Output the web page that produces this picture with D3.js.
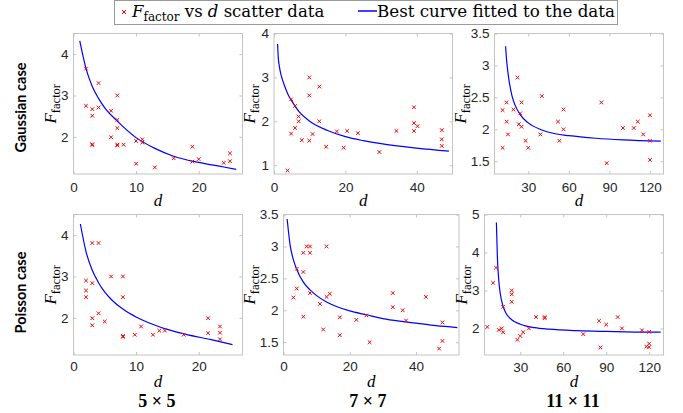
<!DOCTYPE html>
<html>
<head>
<meta charset="utf-8">
<script src="https://cdn.jsdelivr.net/npm/d3@7"></script>
<style>
  body { margin: 0; background: #fff; }
  svg { display: block; }
</style>
</head>
<body>
<svg width="683" height="413"></svg>
<script>
const rowLabels = ['Gaussian case', 'Poisson case']
const colLabels = ['5 × 5', '7 × 7', '11 × 11']

// scatter data (d, F_factor)
const gauss5D = [2, 4, 2, 3, 3, 4, 7, 6, 7, 7, 6, 3, 3, 7, 7, 8, 10, 11, 11, 10, 13, 16, 19, 19, 20, 24, 25, 25]
const gauss5F = [3.65, 3.3, 2.75, 2.67, 2.51, 2.71, 3.0, 2.63, 2.41, 2.21, 1.99, 1.82, 1.80, 1.81, 1.79, 1.81, 1.90, 1.94, 1.86, 1.35, 1.26, 1.48, 1.76, 1.40, 1.46, 1.37, 1.60, 1.41]
const gauss7D = [3.8, 4.8, 5.9, 6.9, 6.9, 5.9, 4.8, 7.8, 9.9, 9.9, 9.9, 10.8, 12.7, 12.7, 14.6, 17.6, 20.5, 19.5, 23.5, 29.5, 34.3, 39.2, 39.2, 39.2, 40.2, 47, 47, 47]
const gauss7F = [0.88, 2.5, 2.35, 2.11, 2.0, 1.85, 1.72, 1.57, 3.0, 2.59, 1.56, 1.71, 2.79, 2.0, 1.42, 1.77, 1.78, 1.40, 1.73, 1.30, 1.78, 2.32, 1.96, 1.78, 1.89, 1.8, 1.59, 1.44]
const gauss11D = [11, 11, 14, 14, 15, 19, 22, 23, 24, 25, 25, 28, 30, 40, 39, 52, 53, 56, 56, 84, 88, 100, 108, 111, 115, 120, 120, 120]
const gauss11F = [2.3, 1.71, 2.42, 2.12, 1.92, 2.31, 2.81, 2.08, 2.25, 2.42, 2.04, 1.82, 1.71, 2.52, 1.92, 2.12, 1.82, 2.0, 2.31, 2.42, 1.47, 2.02, 2.02, 2.12, 1.92, 2.22, 1.82, 1.52]
const poiss5D = [3, 4, 2, 2, 2, 3, 3, 3, 4, 5, 6, 7.9, 7.9, 7.9, 7.9, 9.8, 10.8, 12.7, 13.7, 14.6, 17.6, 21.5, 21.5, 23.4, 23.4, 23.4]
const poiss5F = [3.81, 3.81, 2.9, 2.66, 2.5, 2.84, 1.99, 1.82, 2.11, 1.91, 3.0, 3.0, 2.5, 1.54, 1.56, 1.59, 1.79, 1.59, 1.69, 1.69, 1.59, 1.99, 1.63, 1.79, 1.64, 1.48]
const poiss7D = [3, 4, 4, 6, 6, 6, 7, 8, 8, 8, 11, 12, 13, 13, 14, 17, 17, 22, 25, 26, 33, 33, 36, 37, 43, 47, 48, 48]
const poiss7F = [2.2, 2.34, 2.65, 2.9, 2.6, 1.9, 3.0, 3.0, 2.9, 2.27, 2.1, 1.7, 3.0, 2.21, 2.26, 1.89, 1.61, 1.85, 1.92, 1.5, 2.27, 2.05, 2.0, 1.84, 2.21, 1.40, 1.81, 1.52]
const poiss11D = [7, 11, 13, 15, 17, 18, 18, 24, 24, 24, 28, 30, 32, 36, 41, 47, 47, 74, 85, 86, 90, 98, 101, 115, 118, 120, 120, 120]
const poiss11F = [2.04, 3.2, 3.6, 1.96, 2.0, 1.9, 2.57, 3.0, 2.9, 2.7, 1.7, 1.8, 1.9, 2.0, 2.3, 2.3, 2.27, 1.85, 2.2, 1.5, 2.1, 2.3, 2.0, 1.95, 1.52, 1.91, 1.6, 1.51]

// fitted curves, read at sample points
const gauss5CurveD = [1, 2, 3, 4, 5, 7, 10, 13, 16, 20, 24, 26]
const gauss5CurveF = [4.32, 3.65, 3.22, 2.93, 2.7, 2.38, 1.98, 1.72, 1.53, 1.38, 1.27, 1.21]
const gauss7CurveD = [1, 1.2, 1.5, 2, 3, 4, 5, 7, 10, 15, 20, 25, 30, 40, 49]
const gauss7CurveF = [3.76, 3.45, 3.25, 3.05, 2.8, 2.6, 2.46, 2.22, 2.0, 1.79, 1.65, 1.56, 1.49, 1.39, 1.32]
const gauss11CurveD = [13.2, 14, 15, 16, 18, 20, 24, 30, 40, 50, 60, 80, 100, 128]
const gauss11CurveF = [3.3, 3.07, 2.88, 2.73, 2.52, 2.39, 2.23, 2.1, 1.99, 1.93, 1.9, 1.86, 1.835, 1.815]
const poiss5CurveD = [1.1, 2, 3, 4, 5, 6, 8, 10, 12, 15, 18, 22, 25.4]
const poiss5CurveF = [4.27, 3.6, 3.15, 2.85, 2.62, 2.45, 2.2, 2.02, 1.88, 1.72, 1.6, 1.47, 1.35]
const poiss7CurveD = [1.1, 2, 3, 4, 6, 8, 10, 13, 16, 20, 25, 30, 35, 40, 46, 52.5]
const poiss7CurveF = [3.43, 3.02, 2.79, 2.64, 2.44, 2.32, 2.23, 2.13, 2.06, 1.99, 1.93, 1.87, 1.83, 1.80, 1.76, 1.73]
const poiss11CurveD = [13.3, 14, 15, 16, 18, 20, 24, 30, 40, 50, 70, 90, 110, 128]
const poiss11CurveF = [4.79, 3.87, 3.25, 2.92, 2.58, 2.40, 2.23, 2.11, 2.02, 1.98, 1.94, 1.92, 1.905, 1.9]

// tick values
const xTicks5 = [0, 10, 20]
const xTicks7 = [0, 20, 40]
const xTicks11 = [30, 60, 90, 120]
const yTicksG5 = [2, 3, 4]
const yTicksG7 = [1, 2, 3, 4]
const yTicksG11 = [1.5, 2, 2.5, 3, 3.5]
const yTicksP5 = [2, 3, 4]
const yTicksP7 = [1.5, 2, 2.5, 3, 3.5]
const yTicksP11 = [2, 3, 4, 5]

const panels = [
  { box: [73.5, 33.5, 242.5, 174], xDom: [0, 27], yDom: [1.1, 4.5], xT: xTicks5, yT: yTicksG5, d: gauss5D, f: gauss5F, cd: gauss5CurveD, cf: gauss5CurveF, labX: 56, pad: 8 },
  { box: [274, 33.5, 452.5, 174], xDom: [0, 50], yDom: [0.8, 4], xT: xTicks7, yT: yTicksG7, d: gauss7D, f: gauss7F, cd: gauss7CurveD, cf: gauss7CurveF, labX: 255, pad: 8 },
  { box: [494.5, 33.5, 663.5, 174], xDom: [5, 130], yDom: [1.3, 3.5], xT: xTicks11, yT: yTicksG11, d: gauss11D, f: gauss11F, cd: gauss11CurveD, cf: gauss11CurveF, labX: 466, pad: 8 },
  { box: [73.5, 214.5, 242.5, 355], xDom: [0, 27], yDom: [1.1, 4.5], xT: xTicks5, yT: yTicksP5, d: poiss5D, f: poiss5F, cd: poiss5CurveD, cf: poiss5CurveF, labX: 56, pad: 6 },
  { box: [283.5, 214.5, 459, 355], xDom: [0, 53], yDom: [1.3, 3.5], xT: xTicks7, yT: yTicksP7, d: poiss7D, f: poiss7F, cd: poiss7CurveD, cf: poiss7CurveF, labX: 255, pad: 6 },
  { box: [484.5, 214.5, 663.5, 355], xDom: [5, 130], yDom: [1.3, 5], xT: xTicks11, yT: yTicksP11, d: poiss11D, f: poiss11F, cd: poiss11CurveD, cf: poiss11CurveF, labX: 467, pad: 7 }
]

const svg = d3.select('svg')
const serif = '"Liberation Serif", "Times New Roman", serif'
const legendSerif = '"DejaVu Serif", serif'
const sans = '"Liberation Sans", Arial, sans-serif'
const boxColor = '#c4c4c4'
const tickColor = '#262626'

panels.forEach((p, i) => {
  let [x0, y0, x1, y1] = p.box
  let x = d3.scaleLinear().domain(p.xDom).range([x0, x1])
  let y = d3.scaleLinear().domain(p.yDom).range([y1, y0])
  let g = svg.append('g')

  // tick labels + inner tick marks on all four sides
  g.append('g').attr('transform', `translate(0,${y1})`)
    .call(d3.axisBottom(x).tickValues(p.xT).tickSizeInner(-3).tickSizeOuter(0).tickPadding(p.pad))
  g.append('g').attr('transform', `translate(0,${y0})`)
    .call(d3.axisTop(x).tickValues(p.xT).tickSizeInner(-3).tickSizeOuter(0).tickFormat(''))
  g.append('g').attr('transform', `translate(${x0},0)`)
    .call(d3.axisLeft(y).tickValues(p.yT).tickSizeInner(-3).tickSizeOuter(0).tickPadding(5).tickFormat(d3.format('')))
  g.append('g').attr('transform', `translate(${x1},0)`)
    .call(d3.axisRight(y).tickValues(p.yT).tickSizeInner(-3).tickSizeOuter(0).tickFormat(''))
  g.selectAll('.domain').remove()
  g.selectAll('.tick line').attr('stroke', boxColor)
  g.selectAll('.tick text').attr('fill', tickColor).attr('font-family', sans).attr('font-size', 13.5)

  g.append('rect')
    .attr('x', x0).attr('y', y0)
    .attr('width', x1 - x0).attr('height', y1 - y0)
    .attr('fill', 'none').attr('stroke', boxColor)

  let clipId = 'clip' + i
  g.append('clipPath').attr('id', clipId).append('rect')
    .attr('x', x0).attr('y', y0).attr('width', x1 - x0).attr('height', y1 - y0)

  // fitted curve
  let curvePts = p.cd.map((v, k) => [v, p.cf[k]])
  let line = d3.line()
    .x((d) => x(d[0]))
    .y((d) => y(d[1]))
    .curve(d3.curveMonotoneX)
  g.append('path')
    .attr('clip-path', `url(#${clipId})`)
    .attr('d', line(curvePts))
    .attr('fill', 'none')
    .attr('stroke', '#0000ff')
    .attr('stroke-width', 1.2)

  // scatter markers
  let pts = p.d.map((v, k) => [v, p.f[k]])
  g.append('g').selectAll('path')
    .data(pts)
    .join('path')
    .attr('d', (d) => {
      let cx = x(d[0]), cy = y(d[1]), r = 1.8
      return `M${cx - r},${cy - r}L${cx + r},${cy + r}M${cx - r},${cy + r}L${cx + r},${cy - r}`
    })
    .attr('stroke', '#ff0000')
    .attr('stroke-width', 1)
    .attr('fill', 'none')

  // x label
  g.append('text')
    .attr('x', (x0 + x1) / 2)
    .attr('y', y1 + 32)
    .attr('text-anchor', 'middle')
    .attr('font-family', serif)
    .attr('font-style', 'italic')
    .attr('font-size', 17)
    .text('d')

  // y label F_factor
  let yl = g.append('text')
    .attr('transform', `translate(${p.labX},${(y0 + y1) / 2}) rotate(-90)`)
    .attr('text-anchor', 'middle')
    .attr('font-family', serif)
  yl.append('tspan').attr('font-style', 'italic').attr('font-size', 17).text('F')
  yl.append('tspan').attr('font-size', 12.5).attr('dy', 4).text('factor')
})

// row labels
let rowCenters = [107.5, 292.5]
rowLabels.forEach((t, i) => {
  svg.append('text')
    .attr('transform', `translate(26,${rowCenters[i]}) rotate(-90)`)
    .attr('text-anchor', 'middle')
    .attr('font-family', 'Lato, "Open Sans", sans-serif')
    .attr('font-weight', 'bold')
    .attr('font-size', 14.5)
    .text(t)
})

// column labels
let colCenters = [157, 368, 573]
colLabels.forEach((t, i) => {
  svg.append('text')
    .attr('x', colCenters[i])
    .attr('y', 406.5)
    .attr('text-anchor', 'middle')
    .attr('font-family', serif)
    .attr('font-weight', 'bold')
    .attr('font-size', 18)
    .text(t)
})

// legend
let leg = svg.append('g')
leg.append('rect')
  .attr('x', 114.5).attr('y', 0.5)
  .attr('width', 503).attr('height', 24)
  .attr('fill', '#fff').attr('stroke', '#9a9a9a')
leg.append('path')
  .attr('d', 'M122,10L126,14M122,14L126,10')
  .attr('stroke', '#ff0000').attr('fill', 'none')
let t1 = leg.append('text')
  .attr('x', 132).attr('y', 17)
  .attr('font-family', legendSerif)
  .attr('font-size', 16.5)
t1.append('tspan').attr('font-style', 'italic').text('F')
t1.append('tspan').attr('font-size', 12).attr('dy', 4).text('factor')
t1.append('tspan').attr('dy', -4).text(' vs ')
t1.append('tspan').attr('font-style', 'italic').text('d')
t1.append('tspan').text(' scatter data')
leg.append('line')
  .attr('x1', 358).attr('x2', 377).attr('y1', 11).attr('y2', 11)
  .attr('stroke', '#0000ff').attr('stroke-width', 1.5)
leg.append('text')
  .attr('x', 377).attr('y', 17)
  .attr('font-family', legendSerif)
  .attr('font-size', 16.5)
  .attr('textLength', 238)
  .attr('lengthAdjust', 'spacingAndGlyphs')
  .text('Best curve fitted to the data')
</script>
</body>
</html>
